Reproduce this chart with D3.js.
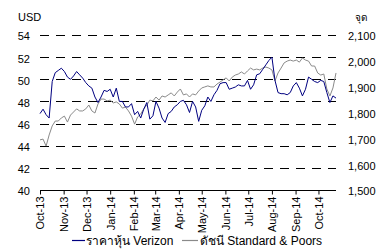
<!DOCTYPE html>
<html>
<head>
<meta charset="utf-8">
<script src="https://cdnjs.cloudflare.com/ajax/libs/d3/7.8.5/d3.min.js"></script>
<style>
  body { margin: 0; background: #fff; }
  text { font-family: "Liberation Sans", Arial, sans-serif; fill: #000; }
</style>
</head>
<body>
<svg id="chart" width="389" height="251"></svg>
<script>
// sampled every 4 days from 1 Oct 2013
var startDate = new Date(2013, 9, 1)
var stepDays = 4

var verizon = [
  46.9, 47.3, 46.8, 46.5, 49.8, 50.6, 50.8, 51.0, 50.7, 50.2,
  50.0, 50.3, 50.7, 50.4, 50.1, 49.7, 49.4, 49.2, 48.4, 47.9,
  48.4, 49.0, 48.9, 49.1, 48.4, 49.2, 48.0, 48.0, 47.5, 47.5,
  47.8, 46.8, 47.1, 46.5, 47.3, 47.9, 46.4, 46.7, 48.0, 47.4,
  46.5, 46.1, 46.9, 47.1, 47.5, 47.7, 48.0, 48.1, 47.7, 47.0,
  48.0, 47.5, 46.2, 47.2, 47.6, 48.4, 48.0, 48.6, 49.0, 49.6,
  49.7, 49.7, 49.1, 49.2, 49.3, 49.5, 49.4, 49.4, 49.9, 49.1,
  49.5, 50.4, 50.5, 50.9, 51.3, 51.7, 52.0, 49.9, 48.8, 48.7,
  48.7, 48.6, 48.8, 49.4, 49.7, 49.2, 48.5, 49.1, 50.2, 50.0,
  49.8, 49.7, 49.9, 49.8, 48.8, 47.9, 48.5, 48.3
]

var sp500 = [
  1694, 1697, 1670, 1713, 1748, 1767, 1767, 1779, 1786, 1763,
  1790, 1802, 1814, 1806, 1806, 1814, 1829, 1806, 1798, 1833,
  1852, 1852, 1845, 1848, 1837, 1841, 1833, 1817, 1821, 1806,
  1786, 1755, 1783, 1794, 1814, 1829, 1848, 1845, 1860, 1848,
  1864, 1860, 1868, 1876, 1864, 1879, 1891, 1868, 1872, 1860,
  1872, 1868, 1883, 1895, 1899, 1903, 1899, 1899, 1910, 1918,
  1926, 1934, 1922, 1937, 1945, 1949, 1957, 1949, 1961, 1972,
  1965, 1968, 1965, 1972, 1976, 1972, 1965, 1922, 1953, 1972,
  1992, 1999, 2003, 1999, 2003, 1995, 2011, 2003, 1999, 1980,
  1980, 1953, 1945, 1949, 1891, 1864, 1895, 1953
]

var leftTicks = [40, 42, 44, 46, 48, 50, 52, 54]
var rightTicks = [1500, 1600, 1700, 1800, 1900, 2000, 2100]
var monthTicks = d3.timeMonth.range(new Date(2013, 9, 1), new Date(2014, 9, 2))
var legendLabels = ["ราคาหุ้น Verizon", "ดัชนี Standard & Poors"]

var svg = d3.select("#chart")
var plotL = 40, plotR = 336, plotT = 35, plotB = 190

var endDate = d3.timeDay.offset(startDate, stepDays * (verizon.length - 1))
var x = d3.scaleTime().domain([startDate, endDate]).range([plotL, plotR])
var yL = d3.scaleLinear().domain([40, 54]).range([plotB, plotT])
var yR = d3.scaleLinear().domain([1500, 2100]).range([plotB, plotT])

function dateAt(i) { return d3.timeDay.offset(startDate, i * stepDays) }

// dashed gridlines
svg.append("g").selectAll("line").data(leftTicks.slice(1)).enter().append("line")
  .attr("x1", plotL).attr("x2", plotR)
  .attr("y1", function(d) { return Math.round(yL(d)) + 0.5 })
  .attr("y2", function(d) { return Math.round(yL(d)) + 0.5 })
  .attr("stroke", "#000").attr("stroke-width", 1)
  .attr("stroke-dasharray", "9,7")

// left axis labels
var gl = svg.append("g").attr("transform", "translate(30,0)")
  .call(d3.axisLeft(yL).tickValues(leftTicks).tickSize(0).tickPadding(0))
gl.select(".domain").remove()
gl.selectAll("text").attr("font-size", 11).attr("dy", "0.45em")
  .style("font-family", "Liberation Sans, Arial, sans-serif")

// right axis labels
var gr = svg.append("g").attr("transform", "translate(348,0)")
  .call(d3.axisRight(yR).tickValues(rightTicks).tickSize(0).tickPadding(0).tickFormat(d3.format(",")))
gr.select(".domain").remove()
gr.selectAll("text").attr("font-size", 11).attr("dy", "0.45em")
  .style("font-family", "Liberation Sans, Arial, sans-serif")

// x axis
var gx = svg.append("g").attr("transform", "translate(0," + (plotB + 0.5) + ")")
  .call(d3.axisBottom(x).tickValues(monthTicks).tickSize(4).tickSizeOuter(0).tickPadding(6)
    .tickFormat(d3.timeFormat("%b-%y")))
gx.select(".domain").attr("stroke", "#000").attr("d", "M" + plotL + ",0H" + plotR)
gx.selectAll(".tick line").attr("stroke", "#000")
gx.selectAll(".tick text").attr("font-size", 11)
  .style("font-family", "Liberation Sans, Arial, sans-serif")
  .attr("text-anchor", "end").attr("transform", "rotate(-90)")
  .attr("x", -6).attr("y", 0).attr("dy", "0.35em")

// lines
var lineL = d3.line().x(function(d, i) { return x(dateAt(i)) }).y(function(d) { return yL(d) })
var lineR = d3.line().x(function(d, i) { return x(dateAt(i)) }).y(function(d) { return yR(d) })

svg.append("path").datum(sp500).attr("d", lineR)
  .attr("fill", "none").attr("stroke", "#8a8a8a").attr("stroke-width", 1)
svg.append("path").datum(verizon).attr("d", lineL)
  .attr("fill", "none").attr("stroke", "#000080").attr("stroke-width", 1)

// unit labels
svg.append("text").attr("x", 18).attr("y", 21).attr("font-size", 11).text("USD")
svg.append("text").attr("x", 355).attr("y", 21).attr("font-size", 10).text("จุด")

// legend
var legend = [
  { label: legendLabels[0], color: "#000080", x0: 72, x1: 85, tx: 86 },
  { label: legendLabels[1], color: "#8a8a8a", x0: 182, x1: 198, tx: 200 }
]
var lg = svg.append("g")
legend.forEach(function(l) {
  lg.append("line").attr("x1", l.x0).attr("x2", l.x1)
    .attr("y1", 240.5).attr("y2", 240.5).attr("stroke", l.color).attr("stroke-width", 1.2)
  lg.append("text").attr("x", l.tx).attr("y", 245).attr("font-size", 12).text(l.label)
})
</script>
</body>
</html>
